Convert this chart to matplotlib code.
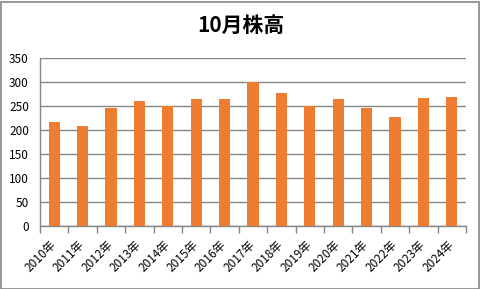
import matplotlib
matplotlib.use('Agg')
import matplotlib.pyplot as plt
import numpy as np
from matplotlib.patches import Rectangle

plt.rcParams['font.family'] = ['Noto Sans CJK JP', 'DejaVu Sans']

# データ
years = ['2010年', '2011年', '2012年', '2013年', '2014年', '2015年', '2016年', '2017年',
         '2018年', '2019年', '2020年', '2021年', '2022年', '2023年', '2024年']
values = [217, 209, 246, 261, 250, 265, 265, 299, 277, 250, 265, 246, 228, 267, 269]
y_ticks = [0, 50, 100, 150, 200, 250, 300, 350]

grid_color = '#868686'
bar_color = '#ED7D31'

fig = plt.figure(figsize=(4.81, 2.89), dpi=100)
ax = fig.add_axes([40 / 481, 63 / 289, 426 / 481, 168 / 289])

x = np.arange(len(years))
ax.bar(x, values, width=0.4, color=bar_color, zorder=3)

ax.set_xlim(-0.5, len(years) - 0.5)
ax.set_ylim(0, 350)
ax.set_yticks(y_ticks)
ax.grid(axis='y', color=grid_color, linewidth=1.0, zorder=0)

# 目盛り
ax.set_xticks(x)
ax.set_xticklabels(years, rotation=45, ha='right', va='center',
                   rotation_mode='anchor', fontsize=8.5)
ax.set_xticks(np.arange(len(years) + 1) - 0.5, minor=True)
ax.tick_params(axis='x', which='major', length=0, pad=12)
ax.tick_params(axis='x', which='minor', length=5, color=grid_color, width=1)
ax.tick_params(axis='y', length=0, labelsize=8.5, pad=8)

for side in ['top', 'right']:
    ax.spines[side].set_visible(False)
for side in ['left', 'bottom']:
    ax.spines[side].set_color(grid_color)
    ax.spines[side].set_linewidth(1.0)

fig.text(0.5, 1 - 25 / 289, '10月株高', ha='center', va='center',
         fontsize=15, fontweight='bold')

# 外枠
fig.patches.append(Rectangle((0.5 / 481, 0.5 / 289), 479 / 481, 287 / 289,
                             transform=fig.transFigure, fill=False,
                             edgecolor=grid_color, linewidth=1.2))

fig.savefig('out.png', dpi=100)
